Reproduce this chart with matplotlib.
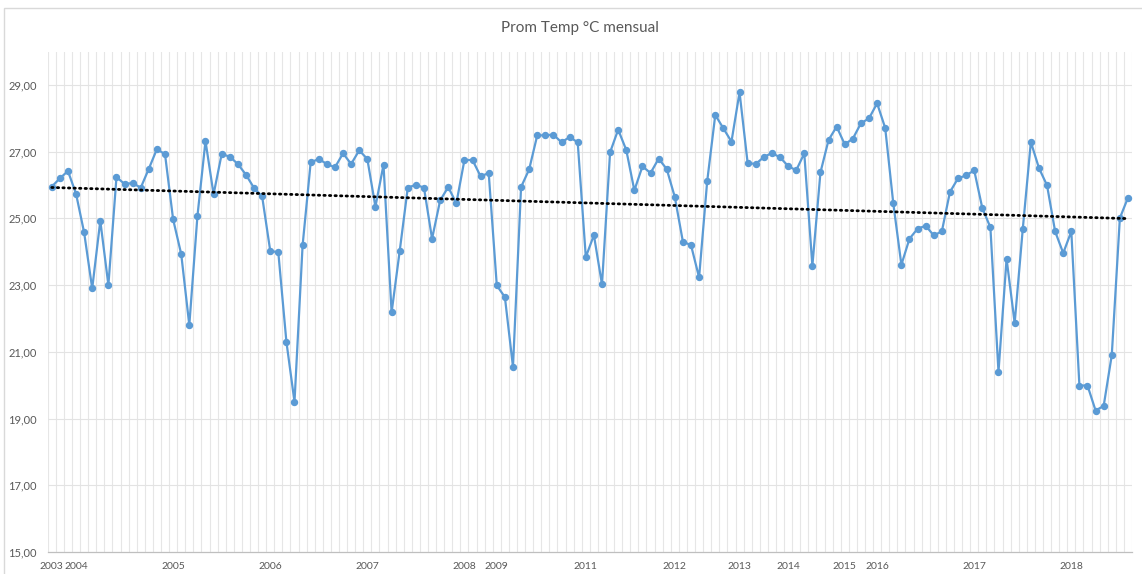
import numpy as np
import matplotlib
matplotlib.use("Agg")
import matplotlib.pyplot as plt
from matplotlib.patches import Rectangle

# monthly mean temperature (°C), in order of the series
temps = [25.95, 26.20, 26.42, 25.74, 24.58, 22.90, 24.93, 23.00, 26.24, 26.03,
         26.06, 25.92, 26.49, 27.08, 26.92, 24.97, 23.93, 21.80, 25.06, 27.32,
         25.72, 26.93, 26.85, 26.63, 26.31, 25.91, 25.66, 24.03, 23.98, 21.30,
         19.50, 24.19, 26.68, 26.78, 26.63, 26.53, 26.95, 26.63, 27.04, 26.78,
         25.35, 26.61, 22.18, 24.02, 25.92, 26.01, 25.92, 24.39, 25.54, 25.94,
         25.45, 26.75, 26.75, 26.26, 26.36, 22.99, 22.64, 20.55, 25.94, 26.47,
         27.49, 27.49, 27.51, 27.28, 27.44, 27.28, 23.84, 24.50, 23.02, 26.98,
         27.66, 27.05, 25.84, 26.56, 26.36, 26.79, 26.48, 25.64, 24.30, 24.20,
         23.23, 26.11, 28.10, 27.70, 27.30, 28.78, 26.66, 26.63, 26.84, 26.96,
         26.83, 26.57, 26.44, 26.95, 23.58, 26.38, 27.35, 27.75, 27.22, 27.39,
         27.85, 28.00, 28.45, 27.71, 25.45, 23.61, 24.39, 24.69, 24.78, 24.49,
         24.61, 25.79, 26.20, 26.29, 26.44, 25.31, 24.73, 20.40, 23.79, 21.86,
         24.68, 27.29, 26.51, 25.99, 24.61, 23.96, 24.61, 19.99, 19.99, 19.24,
         19.38, 20.90, 25.01, 25.62]

# years present and how many months each one has in the series
years = [2003, 2004, 2005, 2006, 2007, 2008, 2009, 2011, 2012, 2013,
         2014, 2015, 2016, 2017, 2018]
months_per_year = [3, 12, 12, 12, 12, 4, 11, 11, 8, 6, 7, 4, 12, 12, 8]

y_ticks = [15, 17, 19, 21, 23, 25, 27, 29]

title = "Prom Temp °C mensual"

plt.rcParams['font.family'] = ['Lato', 'DejaVu Sans']
grey_txt = "#595959"
blue = "#5B9BD5"

n = len(temps)
x = np.arange(n)

# category labels: year name on the first month of each year
cat_labels = []
for yr, m in zip(years, months_per_year):
    cat_labels += [str(yr)] + [""] * (m - 1)

fig = plt.figure(figsize=(11.42, 5.74), dpi=100)
fig.patch.set_facecolor("white")
fig.patches.append(Rectangle((4 / 1142, -0.05), 1.1, 1.05 - 8 / 574,
                             transform=fig.transFigure, fill=False,
                             edgecolor="#d9d9d9", linewidth=1.0))

ax = fig.add_axes([47.7 / 1142, 1 - 552 / 574, (1132 - 47.7) / 1142, (552 - 51.6) / 574])

# gridlines
for b in np.arange(-0.5, n + 0.5, 1):
    ax.axvline(b, color="#e6e6e6", lw=0.8, zorder=0)
for t in y_ticks[1:]:
    ax.axhline(t, color="#e3e3e3", lw=0.8, zorder=0)

ax.plot(x, temps, color=blue, lw=1.6, marker="o", markersize=4.3, zorder=3)

# linear trend
k, c = np.polyfit(x, temps, 1)
ax.plot(x, k * x + c, color="black", lw=2.0, linestyle=(0, (0.5, 1.5)),
        dash_capstyle="round", zorder=4)

ax.set_xlim(-0.5, n - 0.5)
ax.set_ylim(15, 30)
ax.set_yticks(y_ticks)
ax.set_yticklabels([f"{t:.2f}".replace(".", ",") for t in y_ticks])

lab_pos = [i for i, s in enumerate(cat_labels) if s]
ax.set_xticks(lab_pos)
ax.set_xticklabels([cat_labels[i] for i in lab_pos])

ax.tick_params(axis="both", length=0, labelsize=8, colors=grey_txt)
ax.tick_params(axis="x", labelsize=7.5, pad=7)
ax.tick_params(axis="y", pad=8)

for s in ["top", "right", "left"]:
    ax.spines[s].set_visible(False)
ax.spines["bottom"].set_color("#bfbfbf")
ax.spines["bottom"].set_linewidth(0.9)

fig.text(0.508, 1 - 28 / 574, title, ha="center", va="center",
         fontsize=11, color=grey_txt)

fig.savefig("out.png", dpi=100, facecolor="white")
